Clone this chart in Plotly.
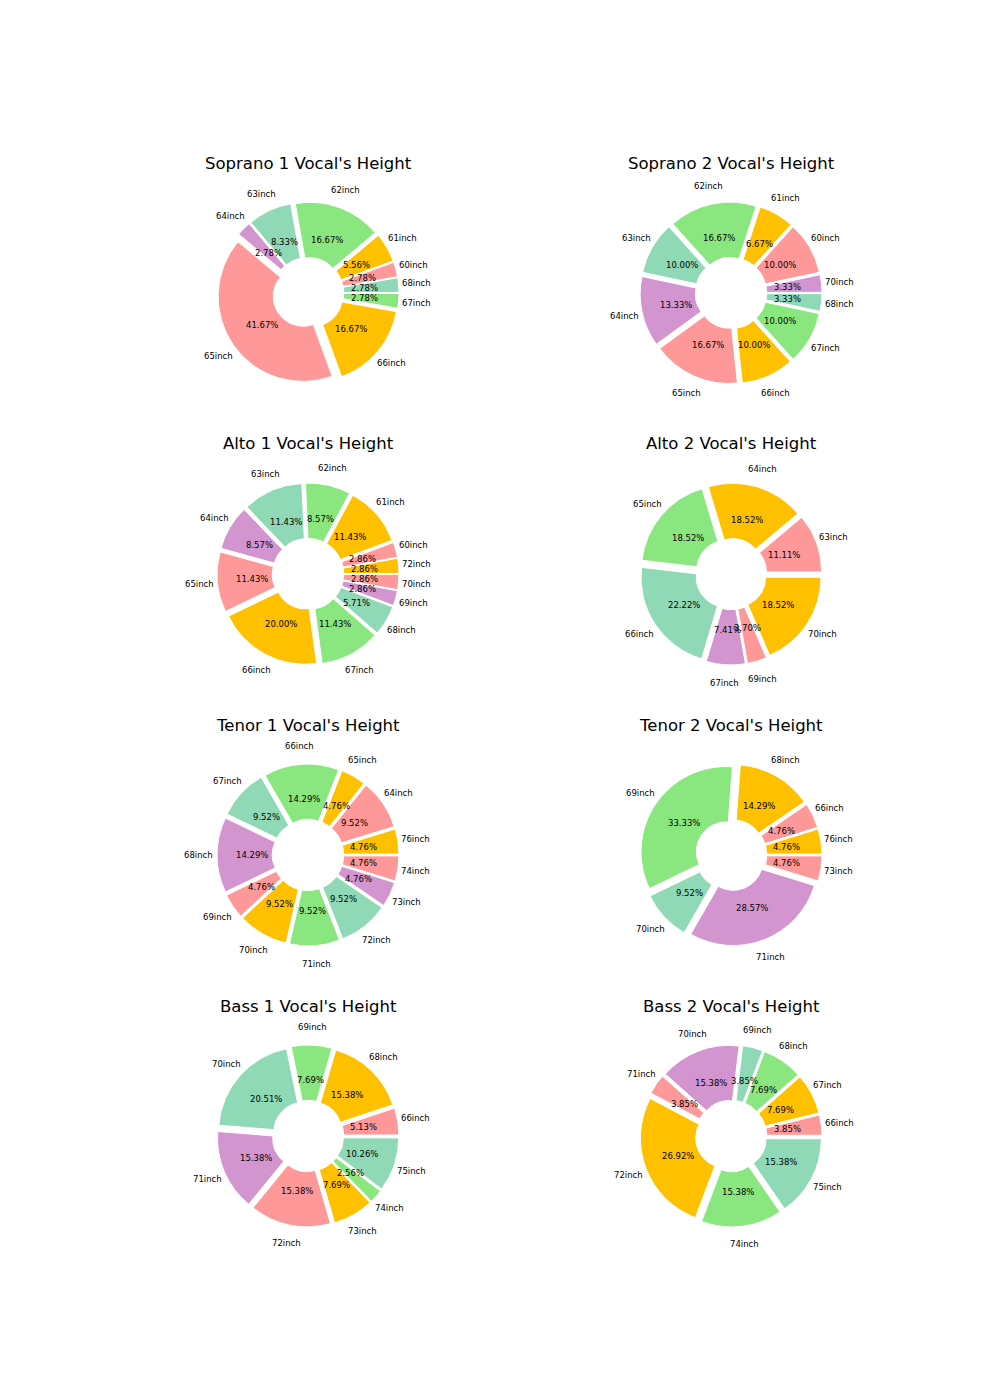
import math
import plotly.graph_objects as go

titles = ["Soprano 1 Vocal's Height", "Soprano 2 Vocal's Height", "Alto 1 Vocal's Height", "Alto 2 Vocal's Height",
          "Tenor 1 Vocal's Height", "Tenor 2 Vocal's Height", "Bass 1 Vocal's Height", "Bass 2 Vocal's Height"]
heights = [
    [68, 60, 61, 62, 63, 64, 65, 66, 67],
    [70, 60, 61, 62, 63, 64, 65, 66, 67, 68],
    [72, 60, 61, 62, 63, 64, 65, 66, 67, 68, 69, 70],
    [63, 64, 65, 66, 67, 69, 70],
    [76, 64, 65, 66, 67, 68, 69, 70, 71, 72, 73, 74],
    [76, 66, 68, 69, 70, 71, 73],
    [66, 68, 69, 70, 71, 72, 73, 74, 75],
    [66, 67, 68, 69, 70, 71, 72, 74, 75],
]
counts = [
    [1, 1, 2, 6, 3, 1, 15, 6, 1],
    [1, 3, 2, 5, 3, 4, 5, 3, 3, 1],
    [1, 1, 4, 3, 4, 3, 4, 7, 4, 2, 1, 1],
    [3, 5, 5, 6, 2, 1, 5],
    [1, 2, 1, 3, 2, 3, 1, 2, 2, 2, 1, 1],
    [1, 1, 3, 7, 2, 6, 1],
    [2, 6, 3, 8, 6, 6, 3, 1, 4],
    [1, 2, 2, 1, 4, 1, 7, 4, 4],
]
palette = ["#ff9999", "#ffc000", "#8ae67f", "#8fd9b6", "#d395d0"]

W, H = 1000, 1400
cxs = [300, 723]
cys = [285, 566, 847, 1128]
R = 91
PULL = 0.07

fig = go.Figure()
ann = []
for i, (t, hs, vs) in enumerate(zip(titles, heights, counts)):
    cx, cy = cxs[i % 2], cys[i // 2]
    srt = sorted(hs)
    cols = [palette[srt.index(h) % 5] for h in hs]
    labels = [f"{h}inch" for h in hs]
    # plotly draws the first listed slice just below the start angle; list last slice first
    p_labels = labels[-1:] + labels[:-1]
    p_vals = vs[-1:] + vs[:-1]
    p_cols = cols[-1:] + cols[:-1]
    fig.add_trace(go.Pie(
        labels=p_labels, values=p_vals, sort=False, direction="counterclockwise", rotation=90,
        hole=0.35, pull=[PULL] * len(vs), textinfo="none", hoverinfo="label+percent",
        marker=dict(colors=p_cols, line=dict(color="white", width=1)), showlegend=False,
        domain=dict(x=[(cx - R) / W, (cx + R) / W], y=[1 - (cy + R) / H, 1 - (cy - R) / H])))
    tot = sum(vs)
    acc = 0
    for lab, v in zip(labels, vs):
        mid = (acc + v / 2) / tot * 2 * math.pi
        acc += v
        for rr, txt in ((0.62 * R, f"{100 * v / tot:.2f}%"), (1.2 * R, lab)):
            ann.append(dict(x=(cx + rr * math.cos(mid)) / W, y=1 - (cy - rr * math.sin(mid)) / H,
                            xref="paper", yref="paper", text=txt, showarrow=False,
                            xanchor="center", yanchor="middle",
                            font=dict(size=8.5, color="black", family="DejaVu Sans")))
    ann.append(dict(x=cx / W, y=1 - (cy - 130) / H, xref="paper", yref="paper", text=t, showarrow=False,
                    xanchor="center", yanchor="middle",
                    font=dict(size=16.5, color="black", family="DejaVu Sans")))

fig.update_layout(width=W, height=H, margin=dict(l=0, r=0, t=0, b=0), paper_bgcolor="white",
                  annotations=ann, font=dict(family="DejaVu Sans"))
fig.write_html("out.html")
